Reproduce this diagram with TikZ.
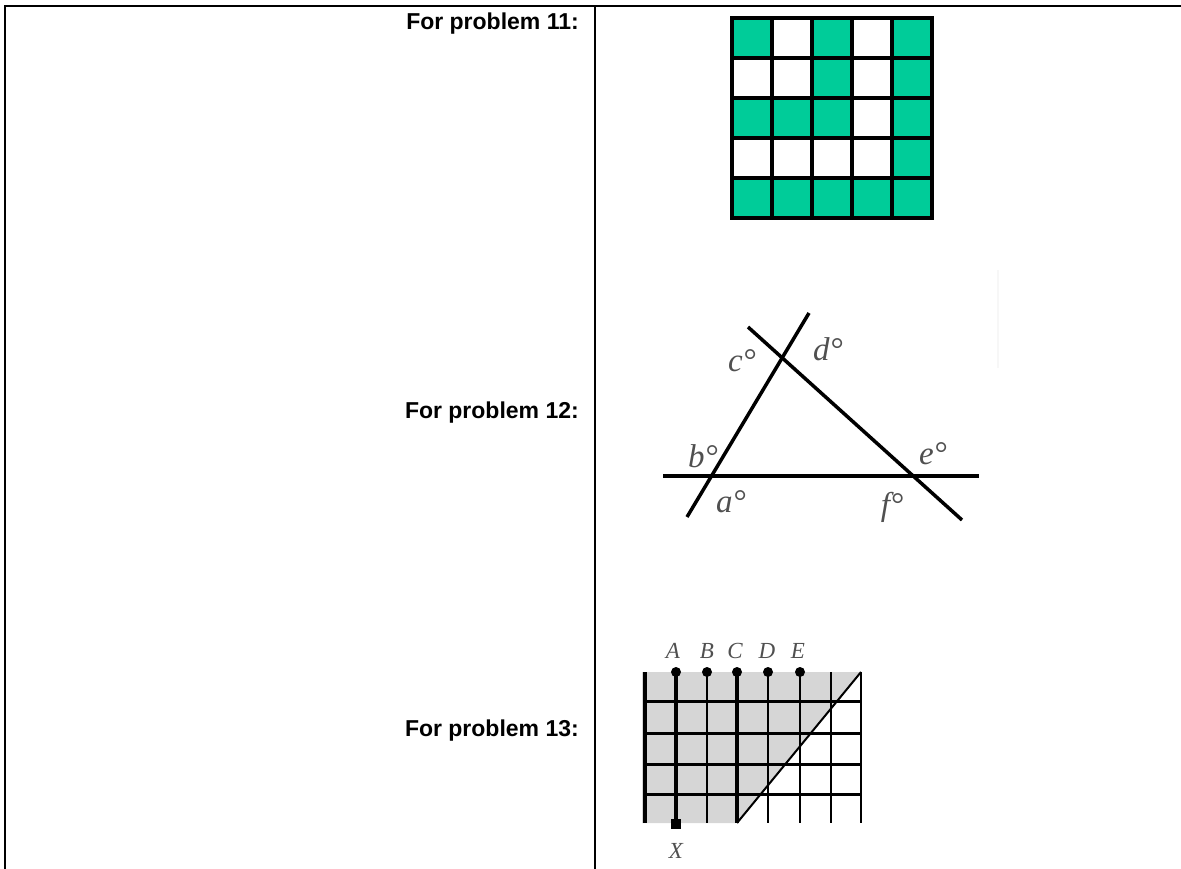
\documentclass[tikz,border=0pt]{standalone}
\usepackage{fontspec}
\setmainfont{Liberation Sans}
\newfontfamily\lserif{Liberation Serif}
\definecolor{tealcell}{RGB}{0,204,153}
\definecolor{shadegray}{RGB}{214,214,214}
\definecolor{labgray}{RGB}{80,80,80}
\begin{document}
\begin{tikzpicture}[x=1pt,y=-1pt,
  rule/.style={line width=2pt},
  lab/.style={font=\fontsize{23}{27}\selectfont\bfseries, inner sep=0pt, anchor=base east},
  gl/.style={line width=4pt, line cap=rect},
  tl/.style={line width=3.5pt},
  ang/.style={font=\lserif\itshape\fontsize{33}{35}\selectfont, text=labgray, inner sep=0pt},
  let/.style={font=\lserif\itshape\fontsize{23}{25}\selectfont, text=labgray, inner sep=0pt},
  dot/.style={circle, fill=black, inner sep=0pt, minimum size=10pt}
]
\useasboundingbox (0,0) rectangle (1181,869);
% table rules
\draw[rule] (1181,6) -- (5,6) -- (5,869);
\draw[rule] (595,6) -- (595,869);
% labels
\node[lab] (p11) at (579,30) {For problem 11:};
\node[lab] (p12) at (579,418) {For problem 12:};
\node[lab] (p13) at (579,736) {For problem 13:};
% problem 11 grid
\foreach \c/\r in {0/0,2/0,4/0,2/1,4/1,0/2,1/2,2/2,4/2,4/3,0/4,1/4,2/4,3/4,4/4}
  \fill[tealcell] ({732+40*\c},{18+40*\r}) rectangle ++(40,40);
\foreach \i in {0,...,5} {
  \draw[gl] ({732+40*\i},18) -- ({732+40*\i},218);
  \draw[gl] (732,{18+40*\i}) -- (932,{18+40*\i});
}
% problem 12 triangle
\coordinate (h1) at (663,476); \coordinate (h2) at (979,476);
\coordinate (l1) at (687,517); \coordinate (l2) at (809,313);
\coordinate (r1) at (748,327); \coordinate (r2) at (962,520);
\draw[tl] (h1) -- (h2);
\draw[tl] (l1) -- (l2);
\draw[tl] (r1) -- (r2);
\node[ang] (ac) at (742,361) {c°};
\node[ang] (ad) at (828,349) {d°};
\node[ang] (ab) at (703,456) {b°};
\node[ang] (ae) at (933,454) {e°};
\node[ang] (aa) at (731,502) {a°};
\node[ang] (af) at (892,507) {f°};
\draw[gray!6, line width=2pt] (998,270) -- (998,368);
% problem 13 grid
\fill[shadegray] (642,672) -- (861,672) -- (737,823) -- (642,823) -- cycle;
\foreach \y in {701,733,764,794}
  \draw[line width=3pt] (645,\y) -- (861,\y);
\draw[line width=4pt] (645,672) -- (645,823);
\draw[line width=2pt] (707,672) -- (707,823);
\draw[line width=2pt] (768,672) -- (768,823);
\draw[line width=2pt] (800,672) -- (800,823);
\draw[line width=2pt] (831,672) -- (831,823);
\draw[line width=1.5pt] (861,672) -- (861,823);
\node[dot] (dA) at (676,672) {};
\node[dot] (dB) at (707,672) {};
\node[dot] (dC) at (737,672) {};
\node[dot] (dD) at (768,672) {};
\node[dot] (dE) at (800,672) {};
\node[rectangle, fill=black, inner sep=0pt, minimum size=10pt] (dX) at (676,824) {};
\coordinate (cbot) at (737,823);
\coordinate (corner) at (861,672);
\draw[line width=4pt] (dA.center) -- (dX.center);
\draw[line width=3.5pt] (dC.center) -- (cbot);
\draw[line width=2pt] (cbot) -- (corner);
\node[let] (lA) at (673,651) {A};
\node[let] (lB) at (707,651) {B};
\node[let] (lC) at (735,651) {C};
\node[let] (lD) at (767,651) {D};
\node[let] (lE) at (798,651) {E};
\node[let] (lX) at (676,851) {X};
\end{tikzpicture}
\end{document}
